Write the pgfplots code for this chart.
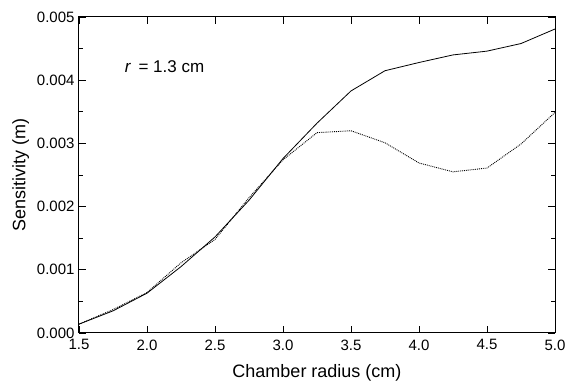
\documentclass[border=0pt]{standalone}
\usepackage{fontspec}
\setmainfont{Liberation Sans}
\usepackage{pgfplots}
\pgfplotsset{compat=1.18}
\begin{document}
\begin{tikzpicture}
\begin{axis}[
  scale only axis,
  width=476pt, height=316pt,
  xmin=1.5, xmax=5.0, ymin=0, ymax=0.005,
  xtick={1.5,2.0,...,5.0},
  ytick={0,0.001,0.002,0.003,0.004,0.005},
  minor ytick={0.0005,0.0015,0.0025,0.0035,0.0045},
  tick align=inside,
  major tick length=7pt, minor tick length=4pt,
  axis line style={line width=1pt},
  every tick/.style={black, line width=0.8pt},
  scaled y ticks=false,
  /pgf/number format/assume math mode=true,
  ticklabel style={font=\fontsize{15}{17}\selectfont},
  xticklabel style={yshift=-3pt, /pgf/number format/.cd, fixed, fixed zerofill, precision=1},
  yticklabel style={xshift=-1pt, /pgf/number format/.cd, fixed, fixed zerofill, precision=3},
  xlabel={Chamber radius (cm)},
  ylabel={Sensitivity (m)},
  label style={font=\fontsize{18}{20}\selectfont},
  xlabel style={yshift=-7pt},
  ylabel style={yshift=1pt},
]
\addplot[black, line width=0.8pt] coordinates {
(1.5,0.00014) (1.75,0.00035) (2.0,0.00063) (2.25,0.00105) (2.5,0.00152)
(2.75,0.0021) (3.0,0.00276) (3.25,0.00332) (3.5,0.00383) (3.75,0.00415)
(4.0,0.00428) (4.25,0.0044) (4.5,0.00446) (4.75,0.00458) (5.0,0.00481)
};
\addplot[black, line width=0.9pt, densely dotted] coordinates {
(1.5,0.00014) (1.75,0.00037) (2.0,0.00064) (2.25,0.00111) (2.5,0.00148)
(2.75,0.00214) (3.0,0.00274) (3.25,0.00317) (3.5,0.0032) (3.75,0.00301)
(4.0,0.00269) (4.25,0.00255) (4.5,0.00261) (4.75,0.00299) (5.0,0.00349)
};
\node[anchor=west, inner sep=0pt, font=\fontsize{17}{19}\selectfont] at (axis cs:1.835,0.00421) {\textit{r}\, = 1.3 cm};
\end{axis}
\path (current axis.south west) ++(-79pt,-47pt);
\path (current axis.north east) ++(23pt,17pt);
\end{tikzpicture}
\end{document}
